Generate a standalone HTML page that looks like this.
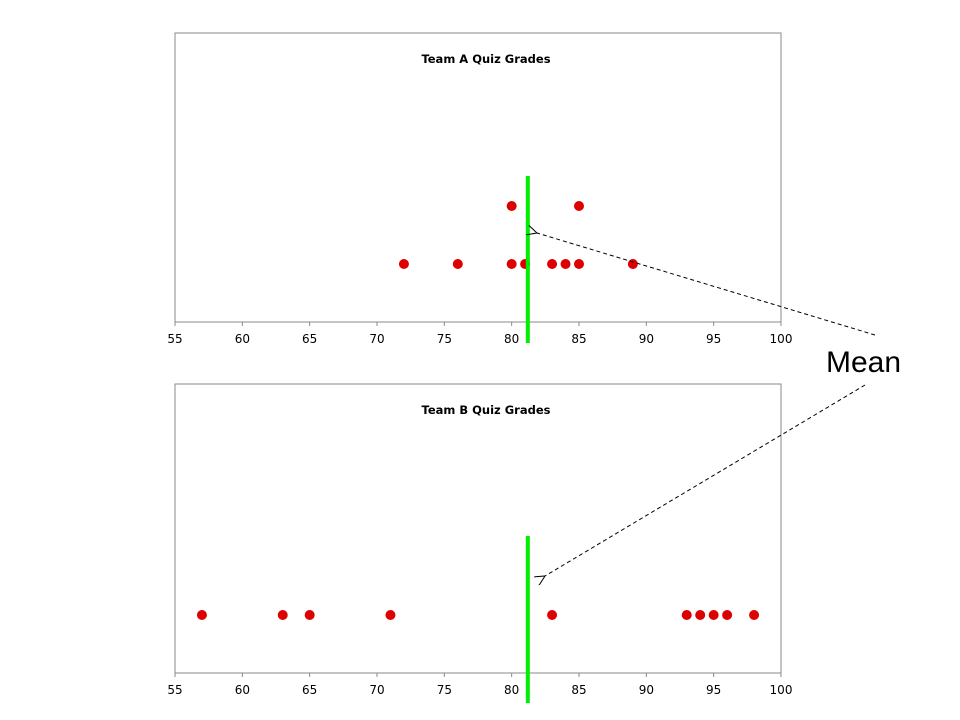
<!DOCTYPE html>
<html><head><meta charset="utf-8"><style>
body{margin:0;background:#fff;}
svg{display:block;font-family:"DejaVu Sans","Liberation Sans",sans-serif;}
</style></head><body>
<svg id="s" width="960" height="720">
<defs><marker id="ah" markerWidth="12" markerHeight="10" refX="1" refY="5" orient="auto" markerUnits="userSpaceOnUse"><path d="M11,0 L1,5 L11,10" fill="none" stroke="#000" stroke-width="1"/></marker></defs>
</svg>
<script>
const ticks=[55,60,65,70,75,80,85,90,95,100];
const teamA=[72,76,80,80,81,83,84,85,85,89];
const teamB=[57,63,65,71,83,93,94,95,96,98];
const meanA=81.2, meanB=81.2;
const svg=document.getElementById('s');
const NS='http://www.w3.org/2000/svg';
function mk(t,a,p){const e=document.createElementNS(NS,t);for(const k in a)e.setAttribute(k,a[k]);(p||svg).appendChild(e);return e;}
const x=v=>175+(v-55)*(781-175)/45;
function chart(top,title,data,mean,key,m1,m2){
  const g=mk('g',{});
  
  
  const bottom=top+289;
  const r=mk('rect',{x:175,y:top,width:606,height:289,fill:'#fff',stroke:'#888','stroke-width':1},g);
  
  
  const t=mk('text',{x:486,y:top+30,'text-anchor':'middle','font-size':11.5,'font-weight':'bold'},g);
  t.textContent=title;
  
  
  ticks.forEach(v=>{
    const tk=mk('line',{x1:x(v),x2:x(v),y1:bottom,y2:bottom+4,stroke:'#888'},g);
    
    
    const l=mk('text',{x:x(v),y:bottom+21,'text-anchor':'middle','font-size':12},g);
    l.textContent=v;
    
    
  });
  const cnt={};
  data.forEach(v=>{
    const n=cnt[v]||0;cnt[v]=n+1;
    const c=mk('circle',{cx:x(v),cy:bottom-58-n*58,r:5,fill:'#dd0000'},g);
    
    
  });
  const m=mk('line',{x1:x(mean),x2:x(mean),y1:m1,y2:m2,stroke:'#00ee00','stroke-width':4},g);
  
  
}
chart(33,'Team A Quiz Grades',teamA,meanA,'team-a',176,343);
chart(384,'Team B Quiz Grades',teamB,meanB,'team-b',536,703);
const ml=mk('text',{x:826,y:372,'font-family':'Liberation Sans, sans-serif','font-size':30});
ml.textContent='Mean';


const a1=mk('line',{x1:875,y1:335,x2:537,y2:233,stroke:'#000','stroke-dasharray':'4,3','marker-end':'url(#ah)'});


const a2=mk('line',{x1:865,y1:385,x2:545,y2:576,stroke:'#000','stroke-dasharray':'4,3','marker-end':'url(#ah)'});


</script>
</body></html>
